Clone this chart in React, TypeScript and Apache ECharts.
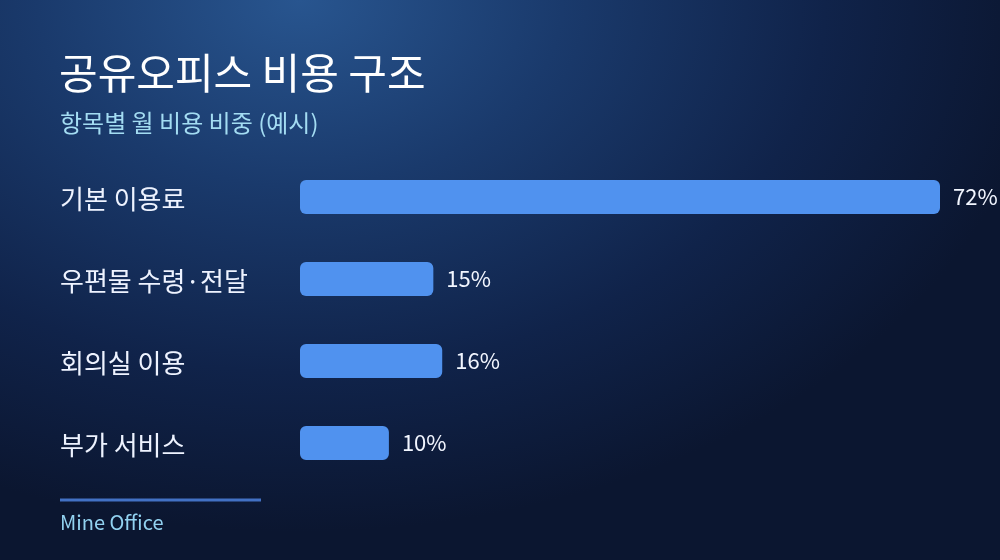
import React, { useEffect, useRef } from "react";
import * as echarts from "echarts";

const categories = ["기본 이용료", "우편물 수령·전달", "회의실 이용", "부가 서비스"];
const values = [72, 15, 16, 10];
const titleText = "공유오피스 비용 구조";
const subtitleText = "항목별 월 비용 비중 (예시)";
const footerText = "Mine Office";

const FONT = '"Noto Sans CJK KR", "Noto Sans", sans-serif';

export default function App() {
  const ref = useRef<HTMLDivElement>(null);
  useEffect(() => {
    if (!ref.current) return;
    const chart = echarts.init(ref.current, undefined, { renderer: "svg" });
    chart.setOption({
      animation: false,
      backgroundColor: "transparent",
      textStyle: { fontFamily: FONT },
      grid: { left: 300, top: 156, width: 640, height: 328 },
      xAxis: {
        type: "value",
        min: 0,
        max: 72,
        show: false,
      },
      yAxis: {
        type: "category",
        data: categories,
        inverse: true,
        axisLine: { show: false },
        axisTick: { show: false },
        splitLine: { show: false },
        axisLabel: {
          align: "left",
          margin: 240,
          color: "#eef3ff",
          fontSize: 26,
          fontFamily: FONT,
          padding: [0, 0, 6, 0],
        },
      },
      series: [
        {
          type: "bar",
          data: values,
          barWidth: 34,
          itemStyle: { color: "#5092ef", borderRadius: 6 },
          label: {
            show: true,
            position: "right",
            distance: 13,
            offset: [0, -2],
            formatter: "{c}%",
            color: "#f2f6ff",
            fontSize: 22,
            fontFamily: FONT,
          },
        },
      ],
      graphic: [
        {
          type: "text",
          x: 59,
          y: 70,
          style: {
            text: titleText,
            fill: "#ffffff",
            fontSize: 42,
            fontWeight: "normal",
            fontFamily: FONT,
            verticalAlign: "middle",
          },
        },
        {
          type: "text",
          x: 60,
          y: 121,
          style: {
            text: subtitleText,
            fill: "#a3dcf2",
            fontSize: 24,
            fontFamily: FONT,
            verticalAlign: "middle",
          },
        },
        {
          type: "line",
          shape: { x1: 60, y1: 500, x2: 261, y2: 500 },
          style: { stroke: "#4271c4", lineWidth: 3 },
        },
        {
          type: "text",
          x: 60,
          y: 521,
          style: {
            text: footerText,
            fill: "#92d2f0",
            fontSize: 20,
            fontFamily: FONT,
            verticalAlign: "middle",
          },
        },
      ],
    });
    return () => chart.dispose();
  }, []);
  return (
    <div
      style={{
        position: "fixed",
        left: 0,
        top: 0,
        width: 1000,
        height: 560,
        background:
          "radial-gradient(ellipse 75% 95% at 30% 0%, #28558f 0%, #1a3a6c 35%, #10234a 70%, #0b1630 100%)",
      }}
    >
      <div ref={ref} style={{ width: 1000, height: 560 }} />
    </div>
  );
}
